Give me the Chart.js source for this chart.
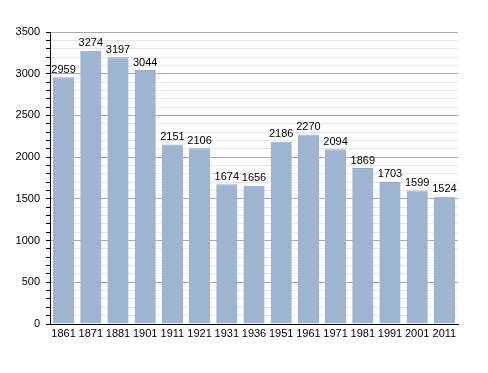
<!DOCTYPE html>
<html>
<head>
<meta charset="utf-8">
<script src="https://cdn.jsdelivr.net/npm/chart.js@4.4.1/dist/chart.umd.min.js"></script>
<style>
  html, body { margin: 0; padding: 0; background: #fff; }
  #wrap { width: 488px; height: 373px; position: relative; }
</style>
</head>
<body>
<div id="wrap"><canvas id="popChart"></canvas></div>
<script>
const years = ['1861', '1871', '1881', '1901', '1911', '1921', '1931', '1936', '1951', '1961', '1971', '1981', '1991', '2001', '2011'];
const population = [2959, 3274, 3197, 3044, 2151, 2106, 1674, 1656, 2186, 2270, 2094, 1869, 1703, 1599, 1524];
const yMax = 3500;
const yStep = 100;
const labelStep = 500;

// draws the value above every bar
const valueLabels = {
    id: 'valueLabels',
    afterDatasetsDraw(chart) {
        const ctx = chart.ctx;
        const meta = chart.getDatasetMeta(0);
        ctx.save();
        ctx.font = '11px "Liberation Sans", Arial, sans-serif';
        ctx.fillStyle = '#000';
        ctx.textAlign = 'center';
        ctx.textBaseline = 'bottom';
        meta.data.forEach((bar, i) => {
            ctx.fillText(String(population[i]), bar.x, bar.y - 2);
        });
        ctx.restore();
    }
};

const popCtx = document.getElementById('popChart').getContext('2d');
const popChart = new Chart(popCtx, {
    type: 'bar',
    data: {
        labels: years,
        datasets: [{
            data: population,
            backgroundColor: '#9db5d0',
            borderColor: '#8faac8',
            borderWidth: { top: 1, left: 0, right: 0, bottom: 0 },
            barPercentage: 0.78,
            categoryPercentage: 1
        }]
    },
    options: {
        responsive: true,
        maintainAspectRatio: false,
        animation: false,
        layout: { padding: { top: 32, right: 30, left: 0, bottom: 0 } },
        plugins: { legend: { display: false }, tooltip: { enabled: false } },
        scales: {
            x: {
                grid: { display: false, drawTicks: false },
                border: { color: '#000', width: 1 },
                ticks: {
                    color: '#000',
                    font: { size: 11, family: '"Liberation Sans", Arial, sans-serif' },
                    padding: 3,
                    maxRotation: 0,
                    autoSkip: false
                },
                afterFit(scale) { scale.height = 49; }
            },
            y: {
                min: 0,
                max: yMax,
                border: { color: '#000', width: 1 },
                grid: {
                    color: (c) => (c.tick.value % labelStep === 0 ? '#a8a8a8' : '#e6e6e6'),
                    tickColor: '#000',
                    tickLength: 4,
                    drawTicks: true
                },
                ticks: {
                    stepSize: yStep,
                    autoSkip: false,
                    color: '#000',
                    font: { size: 11, family: '"Liberation Sans", Arial, sans-serif' },
                    padding: 6,
                    callback: (v) => (v % labelStep === 0 ? v : '')
                },
                afterFit(scale) { scale.width = 50; }
            }
        }
    },
    plugins: [valueLabels]
});
</script>
</body>
</html>
